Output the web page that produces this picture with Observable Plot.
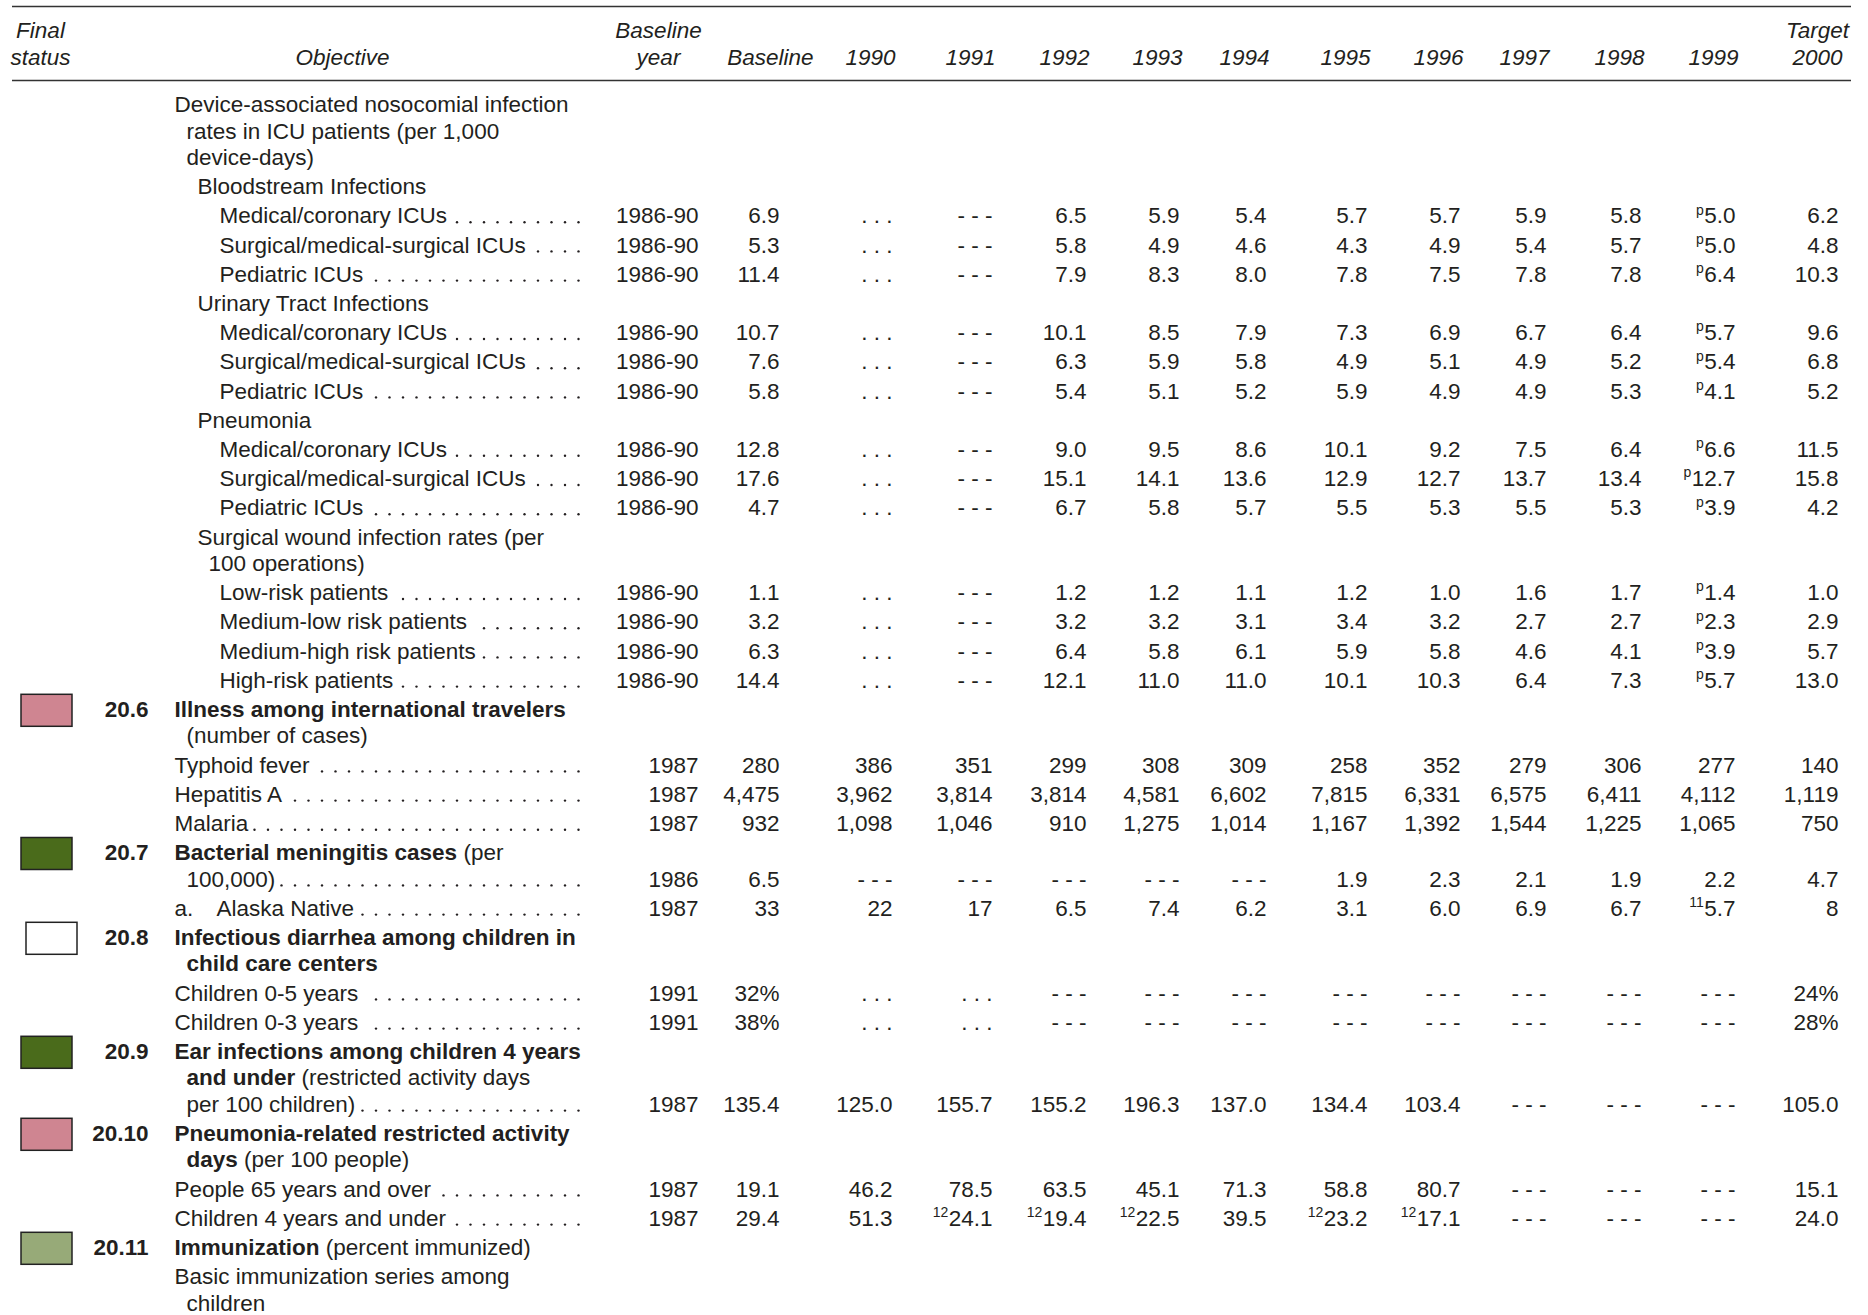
<!DOCTYPE html>
<html><head><meta charset="utf-8">
<script src="https://cdn.jsdelivr.net/npm/d3@7"></script>
<script src="https://cdn.jsdelivr.net/npm/@observablehq/plot@0.6"></script>
<style>body{margin:0;background:#fff}</style>
</head><body><div id="chart"></div>
<script>
// ---------------- DATA ----------------
const columnNames = ["Baseline year","Baseline","1990","1991","1992","1993","1994","1995","1996","1997","1998","1999","Target 2000"];
const yearHeaders = ["1990","1991","1992","1993","1994","1995","1996","1997","1998","1999"];

// objective text lines: [kind, text, hasValues]
const lines = [
 ["head","Device-associated nosocomial infection"],
 ["headCont","rates in ICU patients (per 1,000"],
 ["headCont","device-days)"],
 ["sub","Bloodstream Infections"],
 ["item2","Medical/coronary ICUs",1],
 ["item2","Surgical/medical-surgical ICUs",1],
 ["item2","Pediatric ICUs",1],
 ["sub","Urinary Tract Infections"],
 ["item2","Medical/coronary ICUs",1],
 ["item2","Surgical/medical-surgical ICUs",1],
 ["item2","Pediatric ICUs",1],
 ["sub","Pneumonia"],
 ["item2","Medical/coronary ICUs",1],
 ["item2","Surgical/medical-surgical ICUs",1],
 ["item2","Pediatric ICUs",1],
 ["sub","Surgical wound infection rates (per"],
 ["subCont","100 operations)"],
 ["item2","Low-risk patients",1],
 ["item2","Medium-low risk patients",1],
 ["item2","Medium-high risk patients",1],
 ["item2","High-risk patients",1],
 ["title","**Illness among international travelers**"],
 ["titleCont","(number of cases)"],
 ["item0","Typhoid fever",1],
 ["item0","Hepatitis A",1],
 ["item0","Malaria",1],
 ["title","**Bacterial meningitis cases** (per"],
 ["titleCont","100,000)",1],
 ["item0","a.\tAlaska Native",1],
 ["title","**Infectious diarrhea among children in**"],
 ["titleCont","**child care centers**"],
 ["item0","Children 0-5 years",1],
 ["item0","Children 0-3 years",1],
 ["title","**Ear infections among children 4 years**"],
 ["titleCont","**and under** (restricted activity days"],
 ["titleCont","per 100 children)",1],
 ["title","**Pneumonia-related restricted activity**"],
 ["titleCont","**days** (per 100 people)"],
 ["item0","People 65 years and over",1],
 ["item0","Children 4 years and under",1],
 ["title","**Immunization** (percent immunized)"],
 ["item0","Basic immunization series among"],
 ["itemCont","children"]
];

// objective numbers and final status, in order of the "title" lines
const objectiveCodes = ["20.6","20.7","20.8","20.9","20.10","20.11"];
const objectiveStatus = ["Moved away from target","Met target","No data to assess","Met target","Moved away from target","Moved toward target"];
const statusNames = ["Met target","Moved toward target","Moved away from target","No data to assess"];
const statusColors = ["#4a6b1b","#97aa78","#cf8591","#ffffff"];

// values of the rows with data, in order ({p} / {12} / {11} = superscript)
const rowValues = [
 ["1986-90","6.9","...","---","6.5","5.9","5.4","5.7","5.7","5.9","5.8","{p}5.0","6.2"],
 ["1986-90","5.3","...","---","5.8","4.9","4.6","4.3","4.9","5.4","5.7","{p}5.0","4.8"],
 ["1986-90","11.4","...","---","7.9","8.3","8.0","7.8","7.5","7.8","7.8","{p}6.4","10.3"],
 ["1986-90","10.7","...","---","10.1","8.5","7.9","7.3","6.9","6.7","6.4","{p}5.7","9.6"],
 ["1986-90","7.6","...","---","6.3","5.9","5.8","4.9","5.1","4.9","5.2","{p}5.4","6.8"],
 ["1986-90","5.8","...","---","5.4","5.1","5.2","5.9","4.9","4.9","5.3","{p}4.1","5.2"],
 ["1986-90","12.8","...","---","9.0","9.5","8.6","10.1","9.2","7.5","6.4","{p}6.6","11.5"],
 ["1986-90","17.6","...","---","15.1","14.1","13.6","12.9","12.7","13.7","13.4","{p}12.7","15.8"],
 ["1986-90","4.7","...","---","6.7","5.8","5.7","5.5","5.3","5.5","5.3","{p}3.9","4.2"],
 ["1986-90","1.1","...","---","1.2","1.2","1.1","1.2","1.0","1.6","1.7","{p}1.4","1.0"],
 ["1986-90","3.2","...","---","3.2","3.2","3.1","3.4","3.2","2.7","2.7","{p}2.3","2.9"],
 ["1986-90","6.3","...","---","6.4","5.8","6.1","5.9","5.8","4.6","4.1","{p}3.9","5.7"],
 ["1986-90","14.4","...","---","12.1","11.0","11.0","10.1","10.3","6.4","7.3","{p}5.7","13.0"],
 ["1987","280","386","351","299","308","309","258","352","279","306","277","140"],
 ["1987","4,475","3,962","3,814","3,814","4,581","6,602","7,815","6,331","6,575","6,411","4,112","1,119"],
 ["1987","932","1,098","1,046","910","1,275","1,014","1,167","1,392","1,544","1,225","1,065","750"],
 ["1986","6.5","---","---","---","---","---","1.9","2.3","2.1","1.9","2.2","4.7"],
 ["1987","33","22","17","6.5","7.4","6.2","3.1","6.0","6.9","6.7","{11}5.7","8"],
 ["1991","32%","...","...","---","---","---","---","---","---","---","---","24%"],
 ["1991","38%","...","...","---","---","---","---","---","---","---","---","28%"],
 ["1987","135.4","125.0","155.7","155.2","196.3","137.0","134.4","103.4","---","---","---","105.0"],
 ["1987","19.1","46.2","78.5","63.5","45.1","71.3","58.8","80.7","---","---","---","15.1"],
 ["1987","29.4","51.3","{12}24.1","{12}19.4","{12}22.5","39.5","{12}23.2","{12}17.1","---","---","---","24.0"]
];

// ---------------- LAYOUT ----------------
const W = 1868, H = 1315, FS = 22.5;
const FONT = '"Liberation Sans", Arial, Helvetica, sans-serif';
const INK = "#231f20";
const colRight = [698, 779, 892, 992, 1086, 1179, 1266, 1367, 1460, 1546, 1641, 1735, 1838];
const indent = {head:174, headCont:186, sub:197, subCont:208, item2:219, title:174, titleCont:186, item0:174, itemCont:186};
const contKinds = new Set(["headCont","subCont","titleCont","itemCont"]);
const firstY = 104.5, gapNew = 29.2, gapCont = 26.4;
const leaderEnd = 578, leaderStep = 13.5;

const ctx = document.createElement("canvas").getContext("2d");
function tw(s, bold) { ctx.font = `${bold ? "bold " : ""}${FS}px "Liberation Sans", Arial, sans-serif`; return ctx.measureText(s).width; }

const normalSegs = [], boldSegs = [], codes = [], boxes = [], leaderDots = [], cells = [], sups = [];
let y = firstY, vi = 0, ti = 0;
lines.forEach(([kind, text, hasVals], i) => {
  if (i > 0) y += contKinds.has(kind) ? gapCont : gapNew;
  let x = indent[kind], end = x;
  const m = text.match(/^\*\*(.*?)\*\*\s*(.*)$/);
  if (m) {
    boldSegs.push({x, y, t: m[1]});
    end = x + tw(m[1], true);
    if (m[2]) { const x2 = end + tw(" ", false); normalSegs.push({x: x2, y, t: m[2]}); end = x2 + tw(m[2], false); }
  } else if (text.includes("\t")) {
    const [a, b] = text.split("\t");
    normalSegs.push({x, y, t: a});
    normalSegs.push({x: x + 42, y, t: b});
    end = x + 42 + tw(b, false);
  } else {
    normalSegs.push({x, y, t: text});
    end = x + tw(text, false);
  }
  if (kind === "title") {
    codes.push({x: 148, y, t: objectiveCodes[ti]});
    const st = objectiveStatus[ti];
    const shift = st === "No data to assess" ? 5 : 0;
    boxes.push({x1: 21 + shift, x2: 72 + shift, y1: y - 15, y2: y + 17, status: st});
    ti++;
  }
  if (hasVals) {
    for (let lx = leaderEnd; lx >= end + 5; lx -= leaderStep) leaderDots.push({x: lx, y: y + 6});
    rowValues[vi].forEach((v, j) => {
      const mm = v.match(/^\{(\w+)\}(.*)$/);
      let val = v, sup = null;
      if (mm) { sup = mm[1]; val = mm[2]; }
      if (val === "...") val = ". . .";
      if (val === "---") val = "- - -";
      cells.push({x: colRight[j], y, t: val, col: columnNames[j]});
      if (sup) sups.push({x: colRight[j] - tw(val, false) - 0.5, y: y - 6, t: sup});
    });
    vi++;
  }
});

const headTop = [{x: 40, t: "Final", a: "middle"}, {x: 658, t: "Baseline", a: "middle"}, {x: 1817, t: "Target", a: "middle"}];
const headBottom = [
  {x: 40, t: "status", a: "middle"}, {x: 342, t: "Objective", a: "middle"},
  {x: 658, t: "year", a: "middle"}, {x: 813, t: "Baseline", a: "end"},
  ...yearHeaders.map((yr, k) => ({x: colRight[k + 2] + 3, t: yr, a: "end"})),
  {x: 1817, t: "2000", a: "middle"}
];

const txt = (data, opts) => Plot.text(data, {x: "x", y: "y", text: "t", fill: INK, fontFamily: FONT, fontSize: FS, ...opts});

const chart = Plot.plot({
  width: W, height: H, margin: 0,
  x: {type: "linear", domain: [0, W], range: [0, W], axis: null},
  y: {type: "linear", domain: [0, H], range: [0, H], axis: null},
  color: {domain: statusNames, range: statusColors},
  style: {background: "#fff"},
  marks: [
    Plot.ruleY([6, 80], {y: d => d, x1: () => 12, x2: () => 1851, stroke: "#333", strokeWidth: 1.4}),
    txt(headTop.filter(d => d.a === "middle"), {y: () => 30, fontStyle: "italic", textAnchor: "middle"}),
    txt(headBottom.filter(d => d.a === "middle"), {y: () => 57, fontStyle: "italic", textAnchor: "middle"}),
    txt(headBottom.filter(d => d.a === "end"), {y: () => 57, fontStyle: "italic", textAnchor: "end"}),
    Plot.rect(boxes, {x1: "x1", x2: "x2", y1: "y1", y2: "y2", fill: "status", stroke: "#222", strokeWidth: 1.5}),
    txt(codes, {textAnchor: "end", fontWeight: "bold"}),
    txt(boldSegs, {textAnchor: "start", fontWeight: "bold"}),
    txt(normalSegs, {textAnchor: "start"}),
    Plot.dot(leaderDots, {x: "x", y: "y", r: 1.2, fill: INK, stroke: null}),
    txt(cells, {textAnchor: "end"}),
    txt(sups, {textAnchor: "end", fontSize: 14})
  ]
});
document.getElementById("chart").appendChild(chart);
</script>
</body></html>
